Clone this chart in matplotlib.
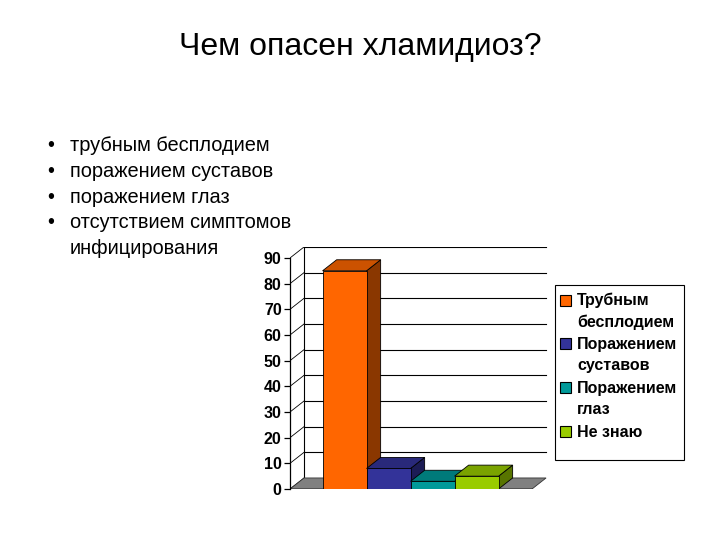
"""
Slide: Чем опасен хламидиоз? - 3D-style column chart rebuilt with matplotlib.
"""
import matplotlib
matplotlib.use('Agg')
import matplotlib.pyplot as plt
from matplotlib.patches import Polygon, Rectangle

plt.rcParams['font.family'] = ['Liberation Sans', 'DejaVu Sans']

title = 'Чем опасен хламидиоз?'
bullets = ['трубным бесплодием', 'поражением суставов', 'поражением глаз',
           'отсутствием симптомов\nинфицирования']

categories = ['Трубным\nбесплодием', 'Поражением\nсуставов', 'Поражением\nглаз', 'Не знаю']
values = [85, 8, 3, 5]
front_colors = ['#FF6600', '#333399', '#009999', '#99CC00']
top_colors = ['#CC5200', '#29297A', '#007A7A', '#7AA300']
side_colors = ['#8A3700', '#1C1C55', '#005252', '#587500']
yticks = list(range(0, 100, 10))

# depth of the fake 3D box, in data units (x: bar widths, y: value units)
DX, DY = 0.32, 4.3
X0 = 0.74          # first bar starts here
FLOOR_END = 5.5

W, H = 720, 540


def fx(px):
    return px / W


def fy(py):
    return 1 - py / H


fig = plt.figure(figsize=(7.2, 5.4), dpi=100)
fig.patch.set_facecolor('white')

fig.text(0.5, fy(47), title, ha='center', va='center', fontsize=23)

# bullet list, one text per printed line
base = 151
for b in bullets:
    for j, line in enumerate(b.split('\n')):
        if j == 0:
            fig.text(fx(47), fy(base), '•', ha='left', va='baseline', fontsize=14.4)
        fig.text(fx(70), fy(base), line, ha='left', va='baseline', fontsize=14.4)
        base += 25.8

ax = fig.add_axes([fx(290), fy(489), 260 / W, 242 / H])
ax.set_xlim(0, 260 / 44)
ax.set_ylim(0, 242 / 2.567)
ax.set_facecolor('none')
for s in ['top', 'right', 'bottom']:
    ax.spines[s].set_visible(False)
ax.spines['left'].set_bounds(0, 90)
ax.spines['left'].set_linewidth(0.9)
ax.set_xticks([])
ax.set_yticks(yticks)
ax.tick_params(axis='y', length=4, width=0.9, pad=2, labelsize=11.5)
for lab in ax.get_yticklabels():
    lab.set_fontweight('bold')

# back wall and gridlines
right = FLOOR_END + DX
for v in yticks:
    ax.plot([0, DX], [v, v + DY], color='black', lw=0.6, zorder=1)
    if v > 0:
        ax.plot([DX, right], [v + DY, v + DY], color='black', lw=0.8, zorder=1)
ax.plot([DX, DX], [DY, 90 + DY], color='black', lw=0.8, zorder=1)

# floor
ax.add_patch(Polygon([(0, 0), (FLOOR_END, 0), (FLOOR_END + DX, DY), (DX, DY)],
                     closed=True, facecolor='#808080', edgecolor='#333333', lw=0.6, zorder=2))
ax.plot([0, FLOOR_END], [0, 0], color='black', lw=0.9, zorder=2)

# bars
for i, v in enumerate(values):
    x0 = X0 + i
    x1 = x0 + 1
    z = 3 + i
    ax.add_patch(Polygon([(x1, 0), (x1 + DX, DY), (x1 + DX, v + DY), (x1, v)], closed=True,
                         facecolor=side_colors[i], edgecolor='black', lw=0.6, zorder=z))
    ax.add_patch(Polygon([(x0, v), (x1, v), (x1 + DX, v + DY), (x0 + DX, v + DY)], closed=True,
                         facecolor=top_colors[i], edgecolor='black', lw=0.6, zorder=z))
    ax.add_patch(Rectangle((x0, 0), 1, v, facecolor=front_colors[i],
                           edgecolor='black', lw=0.6, zorder=z + 0.5))

# legend, drawn by hand so the swatch sits on the first text line
fig.add_artist(Rectangle((fx(555), fy(460)), 129 / W, 175 / H,
                         transform=fig.transFigure, facecolor='none',
                         edgecolor='black', lw=0.8))
base = 305.5
for cat, c in zip(categories, front_colors):
    fig.add_artist(Rectangle((fx(560), fy(base)), 11 / W, 11 / H,
                             transform=fig.transFigure, facecolor=c,
                             edgecolor='black', lw=0.8))
    for j, line in enumerate(cat.split('\n')):
        fig.text(fx(577), fy(base + 21 * j), line, ha='left', va='baseline',
                 fontsize=11.5, fontweight='bold')
    base += 43.7

plt.savefig('out.png', dpi=100)
plt.close()
